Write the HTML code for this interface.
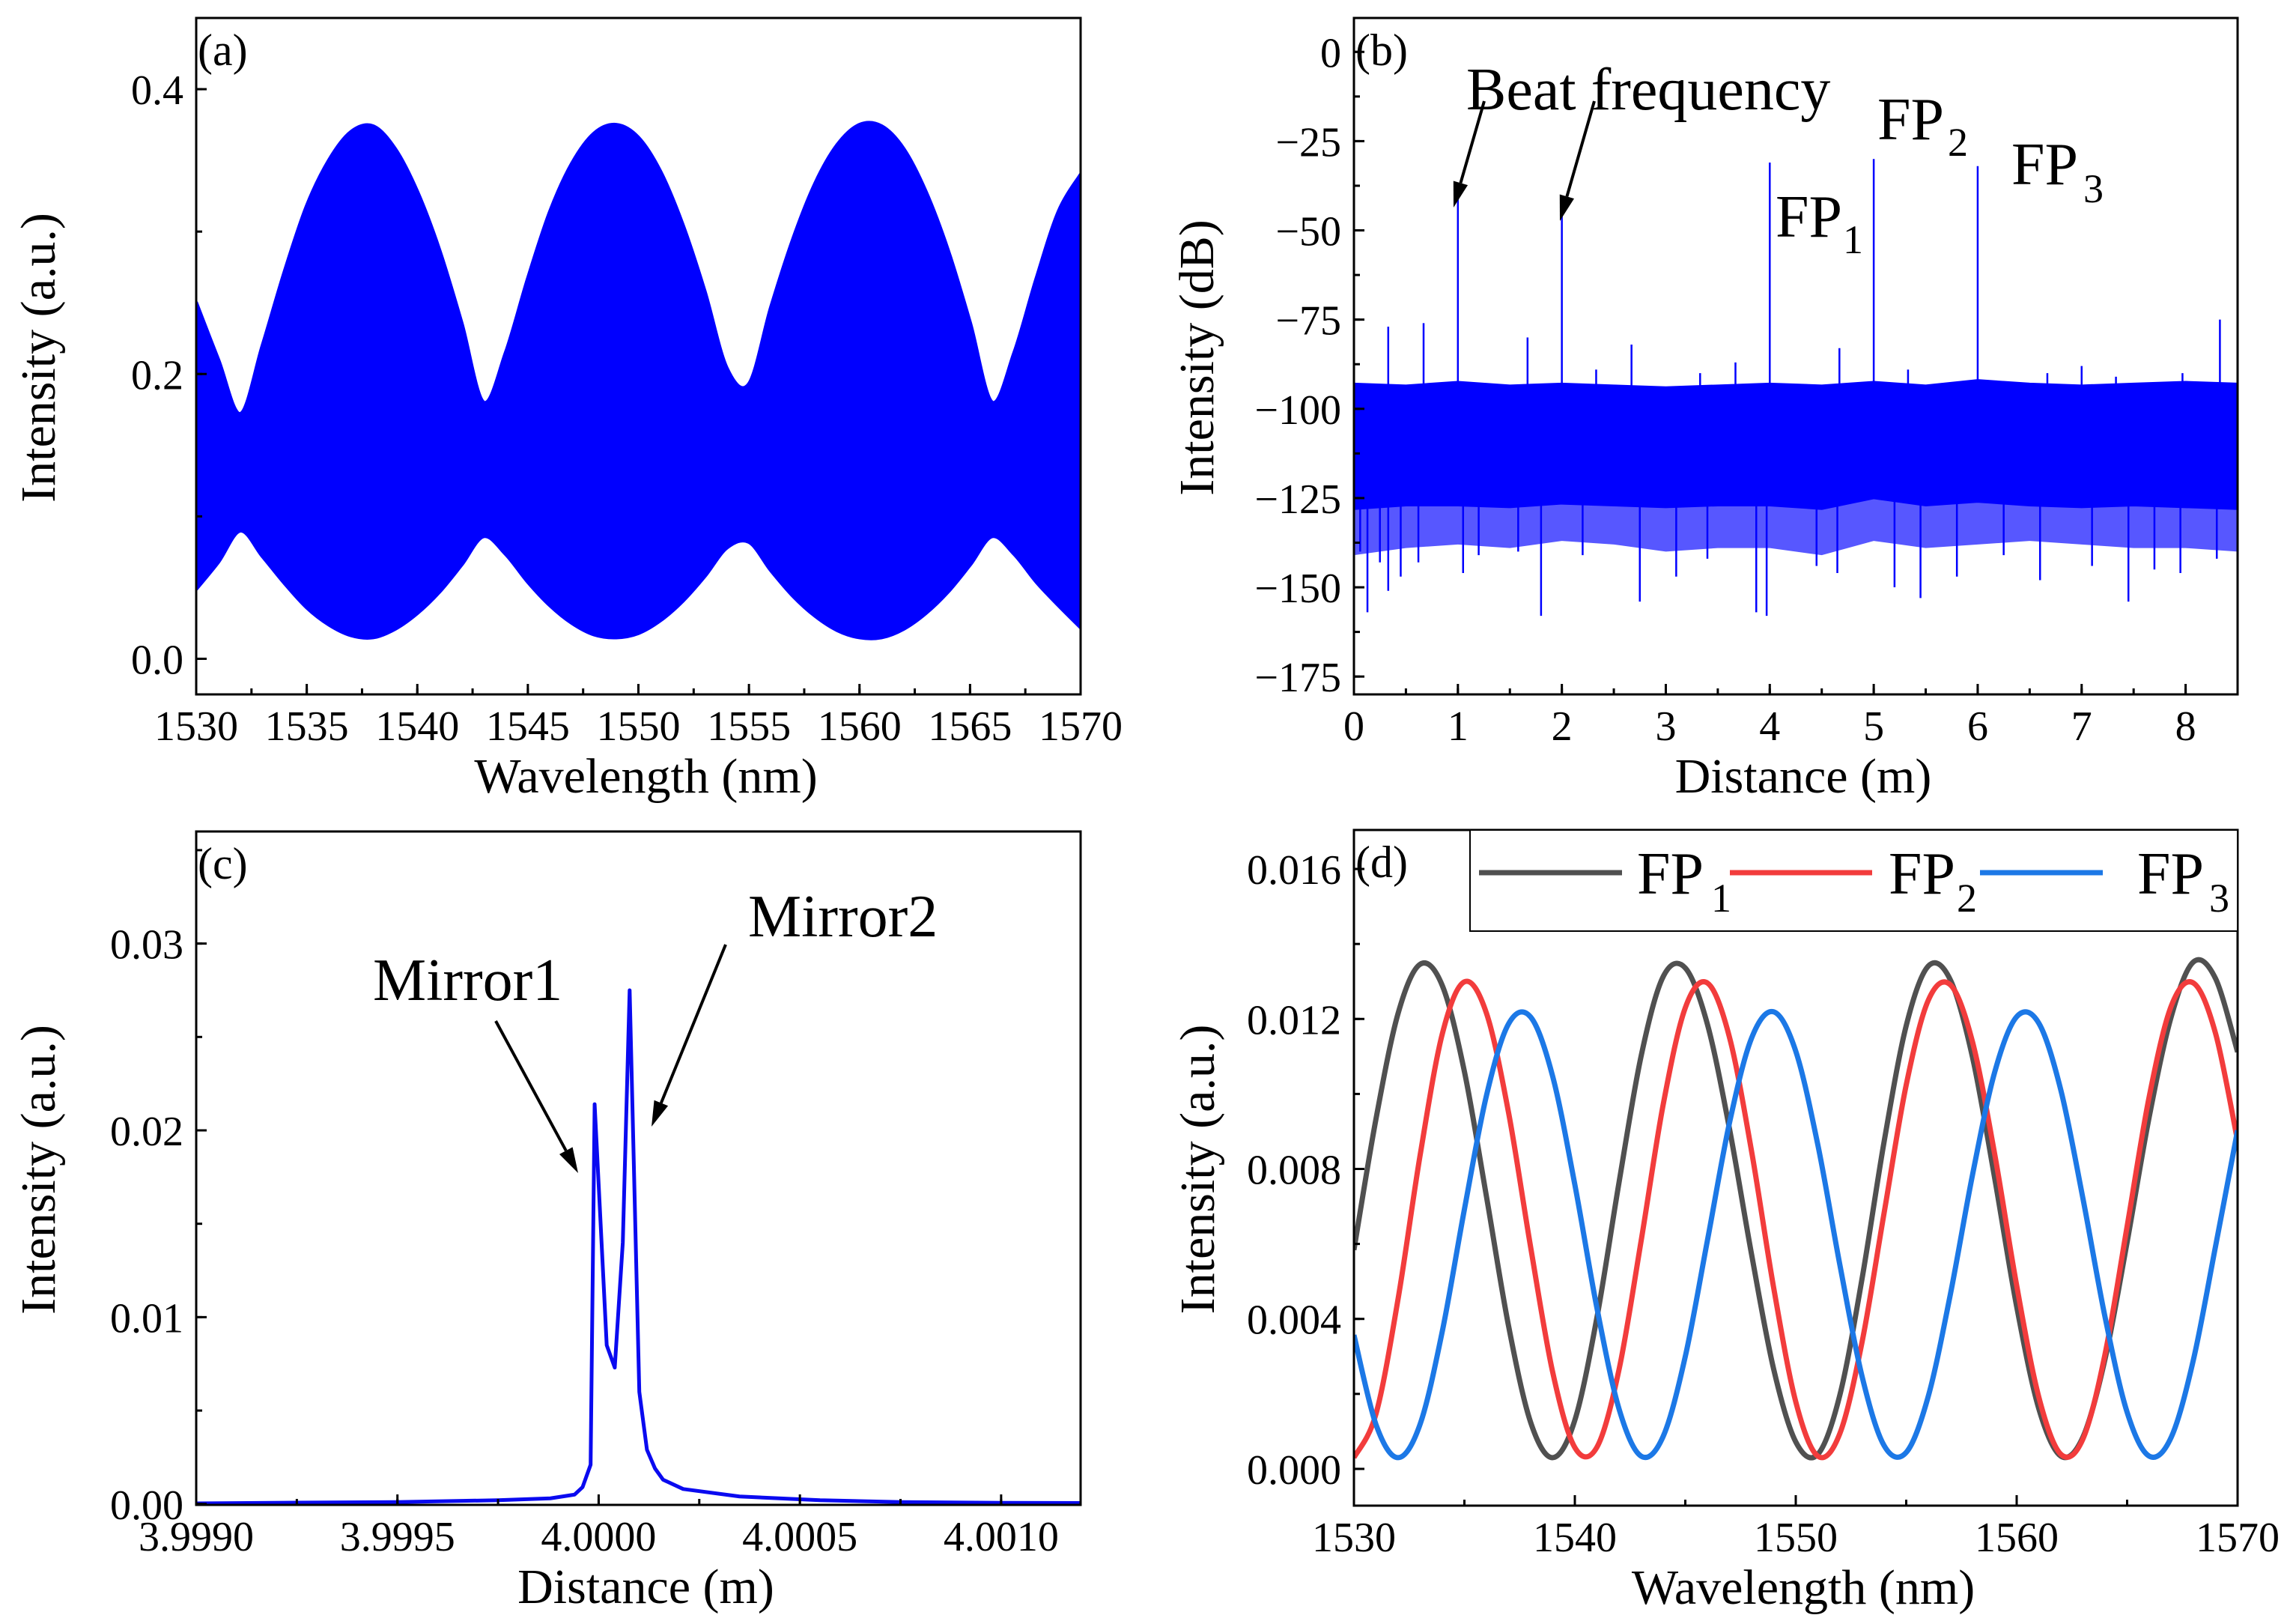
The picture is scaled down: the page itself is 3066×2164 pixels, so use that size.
<!DOCTYPE html>
<html><head><meta charset="utf-8"><style>
html,body{margin:0;padding:0;background:#fff;}
svg{display:block;font-family:"Liberation Serif","DejaVu Serif",serif;}
</style></head><body>
<svg id="fig" width="3066" height="2164" viewBox="0 0 3066 2164" xmlns="http://www.w3.org/2000/svg">
<rect x="0" y="0" width="3066" height="2164" fill="#fff"/>
</svg>
<script>
// ---------- Panel (a) data ----------
const aX = [1530,1531,1532,1533,1534,1535,1536,1537,1538,1539,1540,1541,1542,1543,1544,1545,1546,1547,1548,1549,1550,1551,1552,1553,1554,1555,1556,1557,1558,1559,1560,1561,1562,1563,1564,1565,1566,1567,1568,1569,1570];
const aUpper = [0.25,0.21,0.172,0.22,0.272,0.318,0.35,0.37,0.374,0.358,0.328,0.287,0.236,0.18,0.215,0.267,0.314,0.348,0.369,0.375,0.366,0.342,0.305,0.258,0.204,0.193,0.247,0.295,0.334,0.361,0.375,0.374,0.358,0.328,0.287,0.236,0.18,0.215,0.267,0.314,0.34];
const aLower = [0.049,0.068,0.09,0.072,0.053,0.036,0.024,0.0165,0.015,0.021,0.032,0.047,0.066,0.086,0.0735,0.054,0.0375,0.025,0.017,0.015,0.018,0.027,0.0405,0.058,0.078,0.082,0.062,0.044,0.03,0.02,0.015,0.015,0.021,0.032,0.047,0.066,0.086,0.0735,0.054,0.0375,0.022];
const aYTicks = [0, 0.2, 0.4];
const aYLabels = ["0.0","0.2","0.4"];
const aXTicks = [1530,1535,1540,1545,1550,1555,1560,1565,1570];
const aXLabels = ["1530","1535","1540","1545","1550","1555","1560","1565","1570"];

// ---------- Panel (b) data ----------
const bBandX = [0,0.5,1,1.5,2,2.5,3,3.5,4,4.5,5,5.5,6,6.5,7,7.5,8,8.5];
const bBandTop = [-93,-93.5,-92.5,-93.5,-93,-93.5,-94,-93.5,-93,-93.5,-92.5,-93.5,-92,-93,-93.5,-93,-92.5,-93];
const bBandBottom = [-128,-127,-127,-127.5,-126.5,-127,-127.5,-127,-127,-128,-125,-127,-126,-127,-127.5,-127,-127.5,-128];
const bFringeBottom = [-141,-139,-138,-139,-137,-138,-140,-139,-139,-141,-137,-139,-138,-137,-138,-139,-139,-140];
const bSpikeX = [0.33,0.67,1.0,1.67,2.0,2.33,2.67,3.33,3.67,4.0,4.67,5.0,5.33,6.0,6.67,7.0,7.33,7.97,8.33];
const bSpikeTop = [-77,-76,-40,-80,-46,-89,-82,-90,-87,-31,-83,-30,-89,-32,-90,-88,-91,-90,-75];
const bDownX = [0.06,0.13,0.25,0.33,0.45,0.62,1.05,1.2,1.58,1.8,2.2,2.75,3.1,3.4,3.87,3.97,4.45,4.65,5.2,5.45,5.8,6.25,6.6,7.1,7.45,7.7,7.95,8.3];
const bDownVal = [-140,-157,-143,-151,-147,-143,-146,-141,-140,-158,-141,-154,-147,-142,-157,-158,-144,-146,-150,-153,-147,-141,-148,-144,-154,-145,-146,-142];
const bYTicks = [0,-25,-50,-75,-100,-125,-150,-175];
const bYLabels = ["0","\u221225","\u221250","\u221275","\u2212100","\u2212125","\u2212150","\u2212175"];
const bXTicks = [0,1,2,3,4,5,6,7,8];
const bXLabels = ["0","1","2","3","4","5","6","7","8"];

// ---------- Panel (c) data ----------
const cX = [3.99900,3.99925,3.99950,3.99975,3.99988,3.99994,3.99996,3.99998,3.99999,4.00002,4.00004,4.00006,4.000077,4.000101,4.00012,4.00014,4.00016,4.00021,4.00035,4.00055,4.00075,4.00100,4.00120];
const cY = [0.00003,0.00007,0.0001,0.0002,0.0003,0.0005,0.0009,0.0021,0.0214,0.0085,0.0073,0.014,0.0275,0.006,0.0029,0.0019,0.0013,0.0008,0.0004,0.0002,0.0001,0.00006,0.00005];
const cYTicks = [0,0.01,0.02,0.03];
const cYLabels = ["0.00","0.01","0.02","0.03"];
const cXTicks = [3.999,3.9995,4.0,4.0005,4.001];
const cXLabels = ["3.9990","3.9995","4.0000","4.0005","4.0010"];

// ---------- Panel (d) data ----------
const dX = [1530,1531,1532,1533,1534,1535,1536,1537,1538,1539,1540,1541,1542,1543,1544,1545,1546,1547,1548,1549,1550,1551,1552,1553,1554,1555,1556,1557,1558,1559,1560,1561,1562,1563,1564,1565,1566,1567,1568,1569,1570];
const dFP1 = [0.00584,0.00934,0.01215,0.01346,0.01289,0.0106,0.00726,0.00381,0.00124,0.0003,0.0013,0.00404,0.00764,0.01101,0.01313,0.01336,0.01186,0.00907,0.00572,0.00266,0.00072,0.00039,0.00198,0.00507,0.00873,0.01182,0.01341,0.01304,0.01098,0.00777,0.00433,0.00161,0.00034,0.00085,0.00293,0.00605,0.00939,0.01207,0.01352,0.01308,0.01112];
const dFP2 = [0.0003,0.00147,0.00454,0.00838,0.0116,0.01299,0.01215,0.0095,0.00591,0.00257,0.00057,0.00058,0.00265,0.00608,0.00972,0.0123,0.01296,0.01151,0.00847,0.00483,0.00179,0.00034,0.00095,0.00338,0.00683,0.01024,0.0125,0.01291,0.01139,0.00841,0.00489,0.00192,0.00039,0.0008,0.00306,0.00647,0.00993,0.01235,0.01296,0.01162,0.00875];
const dFP3 = [0.00357,0.00118,0.0003,0.0012,0.00367,0.00692,0.00996,0.01187,0.01205,0.01046,0.00758,0.00429,0.0016,0.00034,0.00087,0.003,0.00609,0.00923,0.01149,0.01219,0.01114,0.00864,0.00543,0.00247,0.00062,0.00044,0.00194,0.00466,0.00784,0.01057,0.01206,0.01189,0.0101,0.00721,0.00405,0.00151,0.00034,0.00085,0.00291,0.00593,0.00903];
const dYTicks = [0,0.004,0.008,0.012,0.016];
const dYLabels = ["0.000","0.004","0.008","0.012","0.016"];
const dXTicks = [1530,1540,1550,1560,1570];
const dXLabels = ["1530","1540","1550","1560","1570"];

const NS = "http://www.w3.org/2000/svg";
const svg = document.getElementById('fig');
function mk(tag, attrs, parent){
  const e = document.createElementNS(NS, tag);
  for (const k in attrs) e.setAttribute(k, attrs[k]);
  (parent || svg).appendChild(e);
  return e;
}
function scaler(p){
  return {
    x: v => p.x0 + (v - p.xmin) / (p.xmax - p.xmin) * (p.x1 - p.x0),
    y: v => p.y1 - (v - p.ymin) / (p.ymax - p.ymin) * (p.y1 - p.y0)
  };
}
const PA = {id:'a', x0:262, x1:1443, y0:24, y1:927, xmin:1530, xmax:1570, ymin:-0.025, ymax:0.45};
const PB = {id:'b', x0:1808, x1:2988, y0:24, y1:927, xmin:0, xmax:8.5, ymin:-180, ymax:9.5};
const PC = {id:'c', x0:262, x1:1443, y0:1110, y1:2009, xmin:3.999, xmax:4.0011975, ymin:-0.00005, ymax:0.036};
const PD = {id:'d', x0:1808, x1:2988, y0:1108, y1:2010, xmin:1530, xmax:1570, ymin:-0.00098, ymax:0.01704};

const defs = mk('defs', {});
[PA,PB,PC,PD].forEach(p => {
  const cp = mk('clipPath', {id:'clip-'+p.id}, defs);
  mk('rect', {x:p.x0, y:p.y0, width:p.x1-p.x0, height:p.y1-p.y0}, cp);
});

function axes(p, yT, yL, yMinor, xT, xL, xMinor, xTitle, yTitle, yTitleX, letter){
  const s = scaler(p);
  const g = mk('g', {});
  
  
  yT.forEach((v, i) => {
    const t = mk('line', {x1:p.x0, x2:p.x0+14, y1:s.y(v), y2:s.y(v), stroke:'#000', 'stroke-width':3}, g);
    
    
    const l = mk('text', {x:p.x0-17, y:s.y(v)+20, 'font-size':56, 'text-anchor':'end'}, g);
    
    
    l.textContent = yL[i];
  });
  yMinor.forEach(v => {
    const t = mk('line', {x1:p.x0, x2:p.x0+8, y1:s.y(v), y2:s.y(v), stroke:'#000', 'stroke-width':3}, g);
    
    
  });
  xT.forEach((v, i) => {
    const t = mk('line', {x1:s.x(v), x2:s.x(v), y1:p.y1, y2:p.y1-14, stroke:'#000', 'stroke-width':3}, g);
    
    
    const l = mk('text', {x:s.x(v), y:p.y1+61, 'font-size':56, 'text-anchor':'middle'}, g);
    
    
    l.textContent = xL[i];
  });
  xMinor.forEach(v => {
    const t = mk('line', {x1:s.x(v), x2:s.x(v), y1:p.y1, y2:p.y1-8, stroke:'#000', 'stroke-width':3}, g);
    
    
  });
  const fr = mk('rect', {x:p.x0, y:p.y0, width:p.x1-p.x0, height:p.y1-p.y0, fill:'none', stroke:'#000', 'stroke-width':3}, g);
  
  
  const xt = mk('text', {x:(p.x0+p.x1)/2 + 10, y:p.y1+131, 'font-size':66, 'text-anchor':'middle'}, g);
  
  
  xt.textContent = xTitle;
  const cy = (p.y0+p.y1)/2 + 2;
  const yt = mk('text', {x:0, y:0, 'font-size':66, 'text-anchor':'middle', transform:'translate('+yTitleX+','+cy+') rotate(-90)'}, g);
  
  
  yt.textContent = yTitle;
  const lt = mk('text', {x:p.x0+2, y:p.y0+63, 'font-size':60}, g);
  
  
  lt.textContent = letter;
}
function range(a, b, st){ const r=[]; for(let v=a; v<=b+1e-12; v+=st) r.push(+v.toFixed(8)); return r; }
function arrow(x1,y1,x2,y2,name){
  const g = mk('g', {});
  
  
  const dx=x2-x1, dy=y2-y1, L=Math.hypot(dx,dy), ux=dx/L, uy=dy/L;
  const hl=34, hw=10;
  const bx=x2-ux*hl, by=y2-uy*hl;
  mk('line', {x1:x1, y1:y1, x2:bx, y2:by, stroke:'#000', 'stroke-width':4}, g);
  mk('polygon', {points:`${x2},${y2} ${bx-uy*hw},${by+ux*hw} ${bx+uy*hw},${by-ux*hw}`, fill:'#000'}, g);
}
function label(x, y, txt, size, name){
  const t = mk('text', {x:x, y:y, 'font-size':size});
  
  
  t.textContent = txt;
  return t;
}
function smoothSeg(xs, ys){
  let d = '';
  for (let i=0;i<xs.length-1;i++){
    const x0=xs[Math.max(0,i-1)], y0=ys[Math.max(0,i-1)];
    const x1=xs[i], y1=ys[i], x2=xs[i+1], y2=ys[i+1];
    const x3=xs[Math.min(xs.length-1,i+2)], y3=ys[Math.min(xs.length-1,i+2)];
    d += ` C${x1+(x2-x0)/6},${y1+(y2-y0)/6} ${x2-(x3-x1)/6},${y2-(y3-y1)/6} ${x2},${y2}`;
  }
  return d;
}
function smoothPath(xs, ys){ return `M${xs[0]},${ys[0]}` + smoothSeg(xs, ys); }

// ---------- Panel (a) ----------
(function(){
  const s = scaler(PA);
  const g = mk('g', {'clip-path':'url(#clip-a)'});
  
  
  const xs = aX.map(s.x);
  const uy = aUpper.map(s.y);
  const ly = aLower.map(s.y);
  const xr = xs.slice().reverse(), lr = ly.slice().reverse();
  const d = smoothPath(xs, uy) + ` L${xr[0]},${lr[0]}` + smoothSeg(xr, lr) + ' Z';
  const band = mk('path', {d: d, fill:'#0000ff', stroke:'#0000ff', 'stroke-width':5, 'stroke-linejoin':'round'}, g);
  
  
  axes(PA, aYTicks, aYLabels, range(0,0.4,0.1), aXTicks, aXLabels, range(1530,1570,2.5), 'Wavelength (nm)', 'Intensity (a.u.)', 73, '(a)');
})();

// ---------- Panel (b) ----------
(function(){
  const s = scaler(PB);
  const g = mk('g', {'clip-path':'url(#clip-b)'});
  
  
  const top = bBandX.map((x,i)=>`${s.x(x)},${s.y(bBandTop[i])}`);
  const fr = bBandX.map((x,i)=>`${s.x(x)},${s.y(bFringeBottom[i])}`).reverse();
  const bot = bBandX.map((x,i)=>`${s.x(x)},${s.y(bBandBottom[i])}`).reverse();
  const fringe = mk('polygon', {points: top.concat(fr).join(' '), fill:'#3a3aff', opacity:0.85}, g);
  
  
  const band = mk('polygon', {points: top.concat(bot).join(' '), fill:'#0000ff', stroke:'#0000ff', 'stroke-width':3}, g);
  
  
  bSpikeX.forEach((x,i)=>{
    const l = mk('line', {x1:s.x(x), x2:s.x(x), y1:s.y(-100), y2:s.y(bSpikeTop[i]), stroke:'#0000ff', 'stroke-width':2.5}, g);
    
    
  });
  bDownX.forEach((x,i)=>{
    const l = mk('line', {x1:s.x(x), x2:s.x(x), y1:s.y(-120), y2:s.y(bDownVal[i]), stroke:'#0000ff', 'stroke-width':2.5}, g);
    
    
  });
  axes(PB, bYTicks, bYLabels, range(-175,0,12.5), bXTicks, bXLabels, range(0,8.5,0.5), 'Distance (m)', 'Intensity (dB)', 1620, '(b)');
  label(1958, 146, 'Beat frequency', 80, 'beat-frequency-annotation');
  arrow(1982,135,1941,277,'beat-arrow-1');
  arrow(2129,135,2083,295,'beat-arrow-2');
  label(2371, 316, 'FP', 80, 'fp1-annotation'); label(2461, 338, '1', 54, 'fp1-subscript');
  label(2507, 186, 'FP', 80, 'fp2-annotation'); label(2601, 208, '2', 54, 'fp2-subscript');
  label(2686, 246, 'FP', 80, 'fp3-annotation'); label(2782, 270, '3', 54, 'fp3-subscript');
})();

// ---------- Panel (c) ----------
(function(){
  const s = scaler(PC);
  const g = mk('g', {'clip-path':'url(#clip-c)'});
  
  
  const pl = mk('polyline', {points: cX.map((x,i)=>`${s.x(x)},${s.y(cY[i])}`).join(' '), fill:'none', stroke:'#0a0af0', 'stroke-width':5, 'stroke-linejoin':'round'}, g);
  
  
  axes(PC, cYTicks, cYLabels, range(0,0.035,0.005), cXTicks, cXLabels, range(3.999,4.0011,0.00025), 'Distance (m)', 'Intensity (a.u.)', 73, '(c)');
  label(498, 1335, 'Mirror1', 80, 'mirror1-annotation');
  label(999, 1250, 'Mirror2', 80, 'mirror2-annotation');
  arrow(662,1363,772,1566,'mirror1-arrow');
  arrow(969,1261,870,1504,'mirror2-arrow');
})();

// ---------- Panel (d) ----------
(function(){
  const s = scaler(PD);
  const g = mk('g', {'clip-path':'url(#clip-d)'});
  
  
  const xs = dX.map(s.x);
  const series = [[dFP1,'#505050','fp1-curve'],[dFP2,'#f23c3c','fp2-curve'],[dFP3,'#1c78e6','fp3-curve']];
  series.forEach(([vals,col,name])=>{
    const p = mk('path', {d: smoothPath(xs, vals.map(s.y)), fill:'none', stroke:col, 'stroke-width':7, 'stroke-linejoin':'round'}, g);
    
    
  });
  axes(PD, dYTicks, dYLabels, range(0,0.016,0.002), dXTicks, dXLabels, range(1530,1570,5), 'Wavelength (nm)', 'Intensity (a.u.)', 1621, '(d)');
  const lg = mk('g', {});
  
  
  const box = mk('rect', {x:1963, y:1108, width:1025, height:135, fill:'#fff', stroke:'#000', 'stroke-width':2}, lg);
  
  
  const entries = [[1975,2166,2186,2285,'#505050','1'],[2310,2500,2522,2613,'#f23c3c','2'],[2644,2808,2854,2950,'#1c78e6','3']];
  entries.forEach(([l1,l2,tx,sx,col,sub])=>{
    const ln = mk('line', {x1:l1, x2:l2, y1:1165, y2:1165, stroke:col, 'stroke-width':7}, lg);
    
    
    const t = mk('text', {x:tx, y:1193, 'font-size':80}, lg);
    
    
    t.textContent = 'FP';
    const st = mk('text', {x:sx, y:1217, 'font-size':54}, lg);
    
    
    st.textContent = sub;
  });
})();
</script>
</body></html>
